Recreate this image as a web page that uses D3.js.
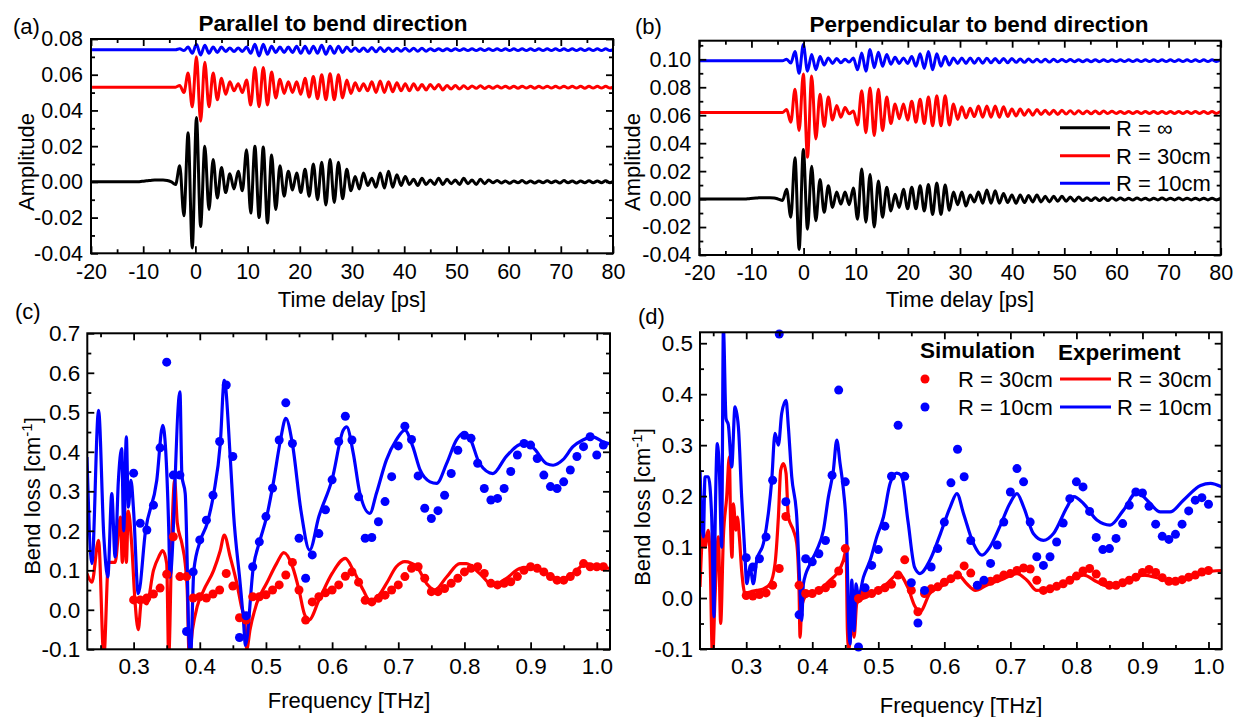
<!DOCTYPE html>
<html>
<head>
<meta charset="utf-8">
<script src="https://cdn.jsdelivr.net/npm/d3@7"></script>
<style>
  body { margin: 0; background: #fff; }
  text { font-family: Arial, "Liberation Sans", sans-serif; fill: #000; }
</style>
</head>
<body>
<svg id="fig" width="1235" height="717"></svg>
<script>
// ---------------- Time-domain traces ----------------
// Each trace is sampled every tStep ps (half an oscillation period);
// amplitudes are given in units of 1e-3 relative to the trace baseline.
const ampUnit = 0.001;
const tStep = 0.8;
const tStartA = -19.8;
const tStartB = -20.05;

const blackA = [0,0,0,0,0,0,0,0,0,0,0,0,
  0.3,0.6,0.8,1,1,1,0.8,0,-1.5,
  9,-19,27.5,-37,36,-25,20,-15.5,12.5,-9,
  8,-6,4.5,-4,6,-5,18,-17.5,20,-20,
  19.5,-23,15,-15.5,9,-8,6,-4.5,5,-6,
  7,-8,10,-10,11,-13,12.5,-11.5,11,-9.5,
  7,-5,3,-4,5,-2,2,-3,5,-3.5,
  6,-3,4,-2,3,-1.5,1.5,-2,2,-1.5,
  1,-1.5,2,-1.5,1.5,-1,1,-1.5,2,-1,
  1,-1.5,1.5,-1,1,
  -0.5,0.8,-0.6,0.5,-0.8,0.5,-0.5,0.7,-0.6,0.5,
  -0.7,0.5,-0.5,0.6,-0.5,0.5,-0.6,0.7,-0.5,0.5,
  -0.6,0.5,-0.5,0.6,-0.5,0.5,-0.5,0.6,-0.5,0.5];
const redA = [0,0,0,0,0,0,0,0,0,0,0,0,0,0,0,0,0,0,0,0,0,
  1,-3,8,-11,17,-19,14,-11,8,-7,
  5,-4,3,-2,2,-3,4,-10,11,-11,
  11,-10,8.5,-6,4.5,-3.5,3,-3,3,-4,
  5,-5.5,6,-6.5,7,-7,7.5,-7,7,-6,
  4,-3.5,2.5,-2,2,-2,3,-3,3.5,-3,
  3,-2.5,2.5,-2,2,-2,2,-1.5,1.5,-1.5,
  1.5,-1,1.5,-1.5,1,-1,1,-1,0.8,-0.8,
  0.7,-0.6,0.8,-0.7,0.6,-0.6,0.7,-0.5,0.6,-0.6,
  0.5,-0.6,0.6,-0.5,0.5,-0.6,0.5,-0.5,0.6,-0.5,
  0.5,-0.5,0.6,-0.5,0.5,-0.5,0.5,-0.6,0.5,-0.5,
  0.5,-0.5,0.5,-0.5,0.5];
const blueA = [0,0,0,0,0,0,0,0,0,0,0,0,0,0,0,0,0,0,0,0,0,
  0.5,-0.5,1.5,-2,3,-3,2.5,-2,1.5,-1.5,
  1.5,-1,1,-1,1,-1,1.5,-2,3,-3.5,
  3,-2.5,2,-1.5,1.5,-1.5,1.5,-1.5,2,-2,
  2,-2,2,-2,2.5,-2.5,2,-2,2,-1.5,
  1.5,-1,1,-1,1,-1,1.2,-1.2,1.2,-1,
  1,-1,0.8,-0.8,0.8,-0.8,0.8,-0.8,0.8,-0.8,
  0.6,-0.6,0.6,-0.6,0.6,-0.6,0.5,-0.5,0.5,-0.5,
  0.5,-0.5,0.5,-0.5,0.5,-0.5,0.5,-0.5,0.5,-0.5,
  0.5,-0.5,0.5,-0.5,0.5,-0.5,0.5,-0.5,0.5,-0.5,
  0.5,-0.5,0.5,-0.5,0.5,-0.5,0.5,-0.5,0.5,-0.5,
  0.5,-0.5,0.5,-0.5,0.5];
const redOffsetA = 0.053;
const blueOffsetA = 0.074;

const blackB = [0,0,0,0,0,0,0,0,0,0,0,0,
  0.3,0.6,0.8,1,1,1,0.8,0,-1,
  7,-13,29.5,-36,35.5,-21.5,23.5,-15.5,14,-9.5,
  9.5,-6,5,-3.5,5,-4,8,-14.5,21.5,-16.5,
  17.5,-20,13,-13,8.5,-8.5,3.5,-6,7,-7,
  8.5,-7,9.5,-8.5,10.5,-11,11.5,-11,10,-8,
  5,-4,5,-5,3,-2,5,-3,6.5,-3,
  6,-3,4,-2.5,3,-3,3,-2.5,2.5,-2,
  3,-2,2,-2,2,-1.5,2,-1.5,1.5,-1.5,
  1.5,-1,1,-1,1,-1,1,-1,1,-0.8,
  0.7,-0.7,0.6,-0.7,0.7,-0.6,0.6,-0.7,0.6,-0.6,
  0.7,-0.6,0.6,-0.6,0.7,-0.6,0.6,-0.6,0.6,-0.6,
  0.6,-0.6,0.6,-0.6,0.6];
const redB = [0,0,0,0,0,0,0,0,0,0,0,0,0,0,0,0,0,0,0,0,0,
  2,-7,16.5,-13,27.5,-32,26,-19,13,-10,
  11,-5.5,5,-3.5,3.5,-1,1,-9,15.5,-14.5,
  17.5,-16.5,16.5,-13,11,-8,6,-4.5,6,-5.5,
  8,-7,9.5,-8,11,-9.5,12,-9.5,12,-9,
  6,-5,4,-4,3,-3,4.5,-3.5,4.5,-3.5,
  4.5,-3.5,4,-3,2.5,-2.5,2.5,-2,2,-2,
  2,-1.5,1.5,-1.5,1.5,-1.5,1.5,-1.2,1.2,-1.2,
  1.2,-1,1,-1,1,-1,1,-0.8,0.8,-0.8,
  0.7,-0.7,0.7,-0.7,0.7,-0.7,0.7,-0.7,0.7,-0.7,
  0.7,-0.7,0.7,-0.7,0.7,-0.7,0.7,-0.7,0.7,-0.7,
  0.7,-0.7,0.7,-0.7,0.7];
const blueB = [0,0,0,0,0,0,0,0,0,0,0,0,0,0,0,0,0,0,0,0,0,
  1,-1.7,6.5,-9,11.5,-7.5,4.5,-6.5,3,-3,
  2,-2,1.5,-1.5,1,-1,2,-6.5,5.5,-7.5,
  8,-5,6,-4,4.5,-2.5,2.5,-2,2,-2,
  3,-4,5,-5.5,6.5,-6.5,5,-4,3,-3,
  2,-2,2,-2,2,-1.8,1.8,-1.8,1.8,-1.5,
  1.5,-1.5,1.5,-1.5,1.5,-1.2,1.2,-1.2,1.2,-1,
  1,-1,1,-1,1,-0.8,0.8,-0.8,0.8,-0.8,
  0.7,-0.7,0.7,-0.7,0.7,-0.7,0.6,-0.6,0.6,-0.6,
  0.6,-0.6,0.6,-0.6,0.6,-0.6,0.6,-0.6,0.6,-0.6,
  0.6,-0.6,0.6,-0.6,0.6,-0.6,0.6,-0.6,0.6,-0.6,
  0.6,-0.6,0.6,-0.6,0.6];
const redOffsetB = 0.062;
const blueOffsetB = 0.099;

// ---------------- Bend loss spectra ----------------
// Experiment: [frequency THz, bend loss cm^-1]
const expRedC = [[0.2295,0.092],[0.237,0.07],[0.247,0.176],[0.255,-0.12],[0.262,0.12],[0.272,0.12],[0.28,0.235],[0.283,0.12],[0.286,0.269],[0.289,0.12],[0.292,0.25],[0.297,0.168],[0.302,0.024],[0.307,-0.05],[0.312,0.024],[0.32,0.015],[0.33,0.1],[0.338,0.134],[0.344,0.15],[0.35,0.117],[0.353,-0.12],[0.358,0.2],[0.362,0.328],[0.366,0.22],[0.373,0.168],[0.378,0.117],[0.381,0.05],[0.384,-0.12],[0.389,-0.05],[0.396,0.008],[0.406,0.05],[0.421,0.1],[0.431,0.15],[0.437,0.189],[0.446,0.134],[0.456,0.067],[0.463,0.008],[0.468,-0.026],[0.471,-0.1],[0.476,-0.05],[0.486,0.016],[0.501,0.067],[0.516,0.117],[0.527,0.145],[0.54,0.11],[0.55,0.05],[0.558,-0.01],[0.565,-0.026],[0.58,0.024],[0.6,0.092],[0.62,0.13],[0.632,0.1],[0.647,0.05],[0.657,0.024],[0.667,0.03],[0.682,0.066],[0.697,0.109],[0.71,0.122],[0.728,0.109],[0.743,0.066],[0.755,0.05],[0.773,0.083],[0.793,0.117],[0.803,0.117],[0.823,0.092],[0.843,0.062],[0.863,0.079],[0.884,0.105],[0.904,0.109],[0.924,0.092],[0.944,0.075],[0.964,0.092],[0.984,0.117],[0.999,0.109],[1.02,0.105]];
const expBlueC = [[0.2295,0.387],[0.237,0.117],[0.247,0.505],[0.255,0.185],[0.261,0.083],[0.267,0.294],[0.272,0.134],[0.277,0.328],[0.282,0.408],[0.285,0.2],[0.289,0.438],[0.292,0.26],[0.296,0.328],[0.3,0.25],[0.307,0.041],[0.318,0.2],[0.335,0.328],[0.344,0.467],[0.353,0.21],[0.355,0.083],[0.37,0.552],[0.373,0.34],[0.378,0.294],[0.381,0.117],[0.383,-0.05],[0.386,-0.12],[0.391,0.1],[0.401,0.176],[0.411,0.218],[0.421,0.294],[0.431,0.421],[0.437,0.581],[0.446,0.387],[0.451,0.244],[0.461,0.067],[0.466,-0.026],[0.469,-0.09],[0.481,0.109],[0.491,0.176],[0.501,0.235],[0.511,0.32],[0.522,0.43],[0.53,0.485],[0.54,0.42],[0.553,0.25],[0.566,0.151],[0.58,0.236],[0.6,0.33],[0.617,0.455],[0.622,0.463],[0.632,0.396],[0.642,0.295],[0.657,0.244],[0.667,0.295],[0.682,0.379],[0.697,0.43],[0.71,0.455],[0.722,0.413],[0.733,0.354],[0.748,0.324],[0.758,0.32],[0.773,0.37],[0.788,0.43],[0.798,0.447],[0.808,0.435],[0.823,0.37],[0.843,0.345],[0.863,0.388],[0.889,0.421],[0.904,0.41],[0.924,0.37],[0.934,0.366],[0.949,0.38],[0.964,0.413],[0.979,0.43],[0.994,0.438],[1.01,0.425],[1.02,0.42]];
const expRedD = [[0.23,0.022],[0.235,0.133],[0.2376,0.1],[0.2426,0.133],[0.245,0.09],[0.249,-0.12],[0.2527,0.0],[0.2578,0.12],[0.2613,-0.05],[0.2654,0.12],[0.2704,0.198],[0.2744,0.277],[0.2765,0.133],[0.2785,0.08],[0.2805,0.185],[0.2845,0.133],[0.2866,0.159],[0.2896,0.12],[0.2931,0.054],[0.2982,0.009],[0.3058,0.012],[0.3159,0.015],[0.326,0.018],[0.3361,0.028],[0.3436,0.067],[0.3487,0.159],[0.3522,0.251],[0.3563,0.264],[0.3603,0.245],[0.3638,0.159],[0.3714,0.133],[0.3765,0.107],[0.38,0.015],[0.3815,-0.077],[0.384,-0.018],[0.3891,0.002],[0.3967,0.008],[0.4068,0.012],[0.4169,0.022],[0.427,0.035],[0.4371,0.048],[0.4472,0.074],[0.4512,0.094],[0.4532,-0.064],[0.4553,-0.1],[0.4598,-0.05],[0.4633,-0.077],[0.4674,-0.011],[0.4724,-0.004],[0.4825,0.002],[0.4977,0.015],[0.5128,0.028],[0.5229,0.041],[0.5305,0.048],[0.545,0.02],[0.555,-0.015],[0.563,-0.027],[0.578,0.009],[0.594,0.022],[0.609,0.035],[0.621,0.045],[0.634,0.028],[0.647,0.015],[0.664,0.025],[0.69,0.038],[0.71,0.048],[0.725,0.035],[0.74,0.015],[0.765,0.022],[0.79,0.035],[0.811,0.045],[0.831,0.032],[0.851,0.022],[0.876,0.032],[0.902,0.045],[0.927,0.038],[0.947,0.032],[0.967,0.038],[0.993,0.051],[1.02,0.054]];
const expBlueD = [[0.23,0.251],[0.2351,0.12],[0.2376,0.238],[0.2426,0.238],[0.2477,0.159],[0.2512,-0.037],[0.2527,0.12],[0.2563,0.303],[0.2593,0.25],[0.2628,0.1],[0.2654,0.53],[0.2694,0.352],[0.2729,0.34],[0.278,0.257],[0.283,0.375],[0.2881,0.336],[0.2931,0.198],[0.2982,0.08],[0.3007,0.028],[0.3058,0.06],[0.3108,0.028],[0.3159,0.074],[0.326,0.107],[0.3335,0.166],[0.3386,0.231],[0.3436,0.323],[0.3487,0.3],[0.3537,0.362],[0.3603,0.388],[0.3638,0.336],[0.3689,0.238],[0.3765,0.159],[0.3815,0.015],[0.384,-0.044],[0.3866,0.028],[0.3967,0.067],[0.4068,0.094],[0.4169,0.133],[0.4244,0.198],[0.432,0.251],[0.4371,0.31],[0.4421,0.264],[0.4472,0.212],[0.4522,0.12],[0.4548,-0.037],[0.4573,-0.09],[0.4598,0.035],[0.4633,-0.064],[0.4664,0.028],[0.4699,0.002],[0.4775,0.041],[0.4876,0.074],[0.4977,0.12],[0.5078,0.159],[0.5179,0.225],[0.528,0.245],[0.535,0.24],[0.545,0.15],[0.555,0.06],[0.563,0.048],[0.578,0.074],[0.594,0.126],[0.609,0.179],[0.619,0.205],[0.629,0.166],[0.644,0.107],[0.657,0.084],[0.669,0.1],[0.684,0.14],[0.699,0.185],[0.71,0.205],[0.72,0.179],[0.735,0.126],[0.75,0.113],[0.765,0.126],[0.786,0.179],[0.796,0.199],[0.811,0.185],[0.831,0.153],[0.851,0.143],[0.871,0.172],[0.892,0.208],[0.907,0.192],[0.927,0.169],[0.942,0.169],[0.962,0.192],[0.988,0.221],[1.003,0.225],[1.02,0.218]];

// Simulation: one value per frequency (null = outside the plotted range)
const simFreqC = [0.30,0.31,0.32,0.33,0.34,0.35,0.36,0.37,0.38,0.39,0.40,0.41,0.42,0.43,0.44,0.45,0.46,0.47,0.48,0.49,0.50,0.51,0.52,0.53,0.54,0.55,0.56,0.57,0.58,0.59,0.60,0.61,0.62,0.63,0.64,0.65,0.66,0.67,0.68,0.69,0.70,0.71,0.72,0.73,0.74,0.75,0.76,0.77,0.78,0.79,0.80,0.81,0.82,0.83,0.84,0.85,0.86,0.87,0.88,0.89,0.90,0.91,0.92,0.93,0.94,0.95,0.96,0.97,0.98,0.99,1.00,1.01];
const simRedC = [0.025,0.025,0.03,0.04,0.055,0.09,0.185,0.084,0.084,0.03,0.033,0.03,0.04,0.05,0.092,0.06,-0.02,-0.026,0.033,0.033,0.038,0.05,0.063,0.088,0.12,0.05,-0.026,0.02,0.033,0.043,0.05,0.063,0.085,0.096,0.07,0.024,0.02,0.029,0.037,0.05,0.063,0.084,0.105,0.109,0.08,0.046,0.046,0.054,0.067,0.08,0.096,0.105,0.109,0.092,0.067,0.063,0.067,0.071,0.084,0.1,0.109,0.105,0.096,0.084,0.075,0.075,0.084,0.096,0.117,0.109,0.109,0.109];
const simBlueC = [0.346,0.219,0.202,0.265,0.41,0.627,0.341,0.341,-0.055,0.096,0.177,0.227,0.29,0.426,0.569,0.388,-0.07,-0.015,0.109,0.172,0.236,0.308,0.43,0.524,0.421,0.181,0.08,0.139,0.193,0.253,0.329,0.426,0.49,0.43,0.286,0.181,0.183,0.223,0.274,0.337,0.415,0.465,0.431,0.339,0.257,0.231,0.251,0.29,0.345,0.404,0.442,0.434,0.371,0.307,0.278,0.282,0.307,0.35,0.392,0.421,0.417,0.383,0.341,0.312,0.307,0.324,0.354,0.388,0.413,0.438,0.392,0.417];
const simFreqD = [0.30,0.31,0.32,0.33,0.34,0.35,0.36,0.37,0.38,0.39,0.40,0.41,0.42,0.43,0.44,0.45,0.46,0.47,0.48,0.49,0.50,0.51,0.52,0.53,0.54,0.55,0.56,0.57,0.58,0.59,0.60,0.61,0.62,0.63,0.64,0.65,0.66,0.67,0.68,0.69,0.70,0.71,0.72,0.73,0.74,0.75,0.76,0.77,0.78,0.79,0.80,0.81,0.82,0.83,0.84,0.85,0.86,0.87,0.88,0.89,0.90,0.91,0.92,0.93,0.94,0.95,0.96,0.97,0.98,0.99,1.00];
const simRedD = [0.005,0.004,0.007,0.01,0.025,0.058,0.16,null,0.025,0.009,0.009,0.015,0.02,0.028,0.053,0.097,null,-0.001,0.009,0.009,0.015,0.02,0.027,0.045,0.075,0.015,-0.027,0.009,0.018,0.022,0.031,0.038,0.045,0.063,0.049,0.024,0.03,0.033,0.038,0.045,0.048,0.054,0.059,0.057,0.035,0.015,0.018,0.023,0.028,0.035,0.043,0.053,0.058,0.047,0.032,0.025,0.025,0.03,0.035,0.041,0.05,0.056,0.05,0.04,0.033,0.033,0.036,0.041,0.045,0.051,0.054];
const simBlueD = [0.079,0.061,0.077,0.12,0.231,0.518,0.189,null,-0.033,0.077,0.071,0.087,0.113,0.241,0.408,0.228,null,-0.096,0.02,0.064,0.095,0.141,0.239,0.339,0.239,0.03,-0.049,0.015,0.061,0.097,0.149,0.226,0.292,0.238,0.113,0.025,0.035,0.068,0.104,0.149,0.208,0.254,0.228,0.149,0.081,0.064,0.081,0.11,0.147,0.195,0.228,0.218,0.17,0.119,0.095,0.097,0.117,0.146,0.182,0.208,0.206,0.18,0.145,0.121,0.115,0.125,0.145,0.171,0.192,0.197,0.184];

// ---------------- Tick values and labels ----------------
const timeTicks = [-20,-10,0,10,20,30,40,50,60,70,80];
const timeTickLabels = ["-20","-10","0","10","20","30","40","50","60","70","80"];
const ampTicksA = [-0.04,-0.02,0,0.02,0.04,0.06,0.08];
const ampTickLabelsA = ["-0.04","-0.02","0.00","0.02","0.04","0.06","0.08"];
const ampTicksB = [-0.04,-0.02,0,0.02,0.04,0.06,0.08,0.10];
const ampTickLabelsB = ["-0.04","-0.02","0.00","0.02","0.04","0.06","0.08","0.10"];
const freqTicks = [0.3,0.4,0.5,0.6,0.7,0.8,0.9,1.0];
const freqTickLabels = ["0.3","0.4","0.5","0.6","0.7","0.8","0.9","1.0"];
const lossTicksC = [-0.1,0,0.1,0.2,0.3,0.4,0.5,0.6,0.7];
const lossTickLabelsC = ["-0.1","0.0","0.1","0.2","0.3","0.4","0.5","0.6","0.7"];
const lossTicksD = [-0.1,0,0.1,0.2,0.3,0.4,0.5];
const lossTickLabelsD = ["-0.1","0.0","0.1","0.2","0.3","0.4","0.5"];

const RED = "#ff0000", BLUE = "#0000ff", BLACK = "#000000";

// ---------------- Drawing helpers ----------------
const svg = d3.select("#fig");
const defs = svg.append("defs");

function panel(o) {
  const x = d3.scaleLinear().domain(o.xDomain).range([o.left, o.right]);
  const y = d3.scaleLinear().domain(o.yDomain).range([o.bottom, o.top]);
  const g = svg.append("g");
  defs.append("clipPath").attr("id", "clip-" + o.name)
    .append("rect").attr("x", o.left).attr("y", o.top)
    .attr("width", o.right - o.left).attr("height", o.bottom - o.top);
  const plot = g.append("g").attr("clip-path", `url(#clip-${o.name})`);
  return { x, y, g, plot, o };
}

function styleAxis(sel, fontSize) {
  sel.select(".domain").remove();
  sel.selectAll(".tick line").attr("stroke", "#000").attr("stroke-width", 1.8);
  sel.selectAll(".tick text")
    .attr("font-size", fontSize)
    .attr("font-family", 'Arial, "Liberation Sans", sans-serif')
    .attr("fill", "#000");
}

function axes(p, xMajor, xLabels, xMinor, yMajor, yLabels, yMinor, xPad, yPad, FS) {
  const { x, y, g, o } = p;
  const MAJ = 7, MIN = 4;
  const xl = v => xLabels[xMajor.indexOf(v)];
  const yl = v => yLabels[yMajor.indexOf(v)];
  // bottom
  g.append("g").attr("transform", `translate(0,${o.bottom})`)
    .call(d3.axisBottom(x).tickValues(xMajor).tickSize(-MAJ).tickPadding(xPad).tickFormat(xl))
    .call(s => styleAxis(s, FS));
  g.append("g").attr("transform", `translate(0,${o.bottom})`)
    .call(d3.axisBottom(x).tickValues(xMinor).tickSize(-MIN).tickFormat(""))
    .call(s => styleAxis(s, FS));
  // top (mirror)
  g.append("g").attr("transform", `translate(0,${o.top})`)
    .call(d3.axisTop(x).tickValues(xMajor).tickSize(-MAJ).tickFormat(""))
    .call(s => styleAxis(s, FS));
  g.append("g").attr("transform", `translate(0,${o.top})`)
    .call(d3.axisTop(x).tickValues(xMinor).tickSize(-MIN).tickFormat(""))
    .call(s => styleAxis(s, FS));
  // left
  g.append("g").attr("transform", `translate(${o.left},0)`)
    .call(d3.axisLeft(y).tickValues(yMajor).tickSize(-MAJ).tickPadding(yPad).tickFormat(yl))
    .call(s => styleAxis(s, FS));
  g.append("g").attr("transform", `translate(${o.left},0)`)
    .call(d3.axisLeft(y).tickValues(yMinor).tickSize(-MIN).tickFormat(""))
    .call(s => styleAxis(s, FS));
  // right (mirror)
  g.append("g").attr("transform", `translate(${o.right},0)`)
    .call(d3.axisRight(y).tickValues(yMajor).tickSize(-MAJ).tickFormat(""))
    .call(s => styleAxis(s, FS));
  g.append("g").attr("transform", `translate(${o.right},0)`)
    .call(d3.axisRight(y).tickValues(yMinor).tickSize(-MIN).tickFormat(""))
    .call(s => styleAxis(s, FS));
  // frame
  g.append("rect").attr("x", o.left).attr("y", o.top)
    .attr("width", o.right - o.left).attr("height", o.bottom - o.top)
    .attr("fill", "none").attr("stroke", "#000").attr("stroke-width", 2);
}

function traceLine(p, values, tStart, offset, color) {
  const pts = values.map((v, i) => [tStart + i * tStep, offset + v * ampUnit]);
  const line = d3.line().x(d => p.x(d[0])).y(d => p.y(d[1])).curve(d3.curveMonotoneX);
  p.plot.append("path").datum(pts).attr("d", line)
    .attr("fill", "none").attr("stroke", color).attr("stroke-width", 3)
    .attr("stroke-linejoin", "round");
}

function spectrumLine(p, pts, color) {
  const line = d3.line().x(d => p.x(d[0])).y(d => p.y(d[1])).curve(d3.curveMonotoneX);
  p.plot.append("path").datum(pts).attr("d", line)
    .attr("fill", "none").attr("stroke", color).attr("stroke-width", 3.2)
    .attr("stroke-linejoin", "round");
}

function simDots(p, freqs, vals, color) {
  const pts = freqs.map((f, i) => [f, vals[i]]).filter(d => d[1] !== null);
  p.g.append("g").selectAll("circle").data(pts).join("circle")
    .attr("cx", d => p.x(d[0])).attr("cy", d => p.y(d[1]))
    .attr("r", 4.5).attr("fill", color);
}

function text(str, x, y, opts = {}) {
  const t = svg.append("text").attr("x", x).attr("y", y)
    .attr("font-size", opts.size || 22)
    .attr("font-weight", opts.bold ? "bold" : "normal")
    .attr("text-anchor", opts.anchor || "start")
    .text(str);
  return t;
}

function rotatedLabel(x, y, parts) {
  const t = svg.append("text")
    .attr("transform", `translate(${x},${y}) rotate(-90)`)
    .attr("text-anchor", "middle").attr("font-size", 22);
  parts.forEach(pt => {
    const s = t.append("tspan").text(pt.t);
    if (pt.sup) s.attr("font-size", 15).attr("baseline-shift", "super");
  });
  return t;
}

// ---------------- Panel (a) ----------------
const pA = panel({ name: "a", left: 91, right: 613, top: 39, bottom: 253.3,
  xDomain: [-20, 80], yDomain: [-0.04, 0.08] });
traceLine(pA, blackA, tStartA, 0, BLACK);
traceLine(pA, redA, tStartA, redOffsetA, RED);
traceLine(pA, blueA, tStartA, blueOffsetA, BLUE);
axes(pA, timeTicks, timeTickLabels, d3.range(-15, 80, 10),
  ampTicksA, ampTickLabelsA, d3.range(-0.03, 0.08, 0.02), 10, 8, 21.5);

// ---------------- Panel (b) ----------------
const pB = panel({ name: "b", left: 699.3, right: 1220.7, top: 40.7, bottom: 255,
  xDomain: [-20, 80], yDomain: [-0.04, 0.1133] });
traceLine(pB, blackB, tStartB, 0, BLACK);
traceLine(pB, redB, tStartB, redOffsetB, RED);
traceLine(pB, blueB, tStartB, blueOffsetB, BLUE);
axes(pB, timeTicks, timeTickLabels, d3.range(-15, 80, 10),
  ampTicksB, ampTickLabelsB, d3.range(-0.03, 0.11, 0.02), 10, 8, 21.5);

// legend (b)
const legB = [["R = \u221E", BLACK, 127.7], ["R = 30cm", RED, 155.7], ["R = 10cm", BLUE, 183.3]];
legB.forEach(([lab, col, yy]) => {
  svg.append("line").attr("x1", 1060).attr("x2", 1110).attr("y1", yy).attr("y2", yy)
    .attr("stroke", col).attr("stroke-width", 3);
  text(lab, 1116, yy + 8);
});

// ---------------- Panel (c) ----------------
const pC = panel({ name: "c", left: 87.3, right: 610, top: 333.3, bottom: 649.3,
  xDomain: [0.23, 1.02], yDomain: [-0.1, 0.7] });
spectrumLine(pC, expRedC, RED);
spectrumLine(pC, expBlueC, BLUE);
simDots(pC, simFreqC, simRedC, RED);
simDots(pC, simFreqC, simBlueC, BLUE);
axes(pC, freqTicks, freqTickLabels, d3.range(0.25, 1.0, 0.1),
  lossTicksC, lossTickLabelsC, d3.range(-0.05, 0.7, 0.1), 9, 7, 22.5);

// ---------------- Panel (d) ----------------
const pD = panel({ name: "d", left: 700, right: 1221.7, top: 332.3, bottom: 649,
  xDomain: [0.23, 1.02], yDomain: [-0.1, 0.5214] });
spectrumLine(pD, expRedD, RED);
spectrumLine(pD, expBlueD, BLUE);
simDots(pD, simFreqD, simRedD, RED);
simDots(pD, simFreqD, simBlueD, BLUE);
axes(pD, freqTicks, freqTickLabels, d3.range(0.25, 1.0, 0.1),
  lossTicksD, lossTickLabelsD, d3.range(-0.05, 0.52, 0.1), 9, 7, 22.5);

// legend (d)
text("Simulation", 920, 358, { bold: true, size: 22.5 });
text("Experiment", 1058, 360, { bold: true, size: 22.5 });
[["R = 30cm", RED, 379], ["R = 10cm", BLUE, 407]].forEach(([lab, col, yy]) => {
  svg.append("circle").attr("cx", 925).attr("cy", yy).attr("r", 4.5).attr("fill", col);
  text(lab, 958, yy + 8);
  svg.append("line").attr("x1", 1060).attr("x2", 1111).attr("y1", yy).attr("y2", yy)
    .attr("stroke", col).attr("stroke-width", 3);
  text(lab, 1117, yy + 8);
});

// ---------------- Titles and axis labels ----------------
text("(a)", 13, 34);
text("(b)", 635, 34);
text("(c)", 15, 319);
text("(d)", 638, 324);
text("Parallel to bend direction", 333, 31, { bold: true, size: 22.5, anchor: "middle" });
text("Perpendicular to bend direction", 979, 32, { bold: true, size: 22.5, anchor: "middle" });
text("Time delay [ps]", 352, 307, { anchor: "middle" });
text("Time delay [ps]", 960, 307, { anchor: "middle" });
text("Frequency [THz]", 349, 708, { anchor: "middle" });
text("Frequency [THz]", 961, 713, { anchor: "middle" });
rotatedLabel(34, 162, [{ t: "Amplitude" }]);
rotatedLabel(640, 162, [{ t: "Amplitude" }]);
rotatedLabel(40, 496, [{ t: "Bend loss [cm" }, { t: "-1", sup: true }, { t: "]" }]);
rotatedLabel(650, 507, [{ t: "Bend loss [cm" }, { t: "-1", sup: true }, { t: "]" }]);
</script>
</body>
</html>
